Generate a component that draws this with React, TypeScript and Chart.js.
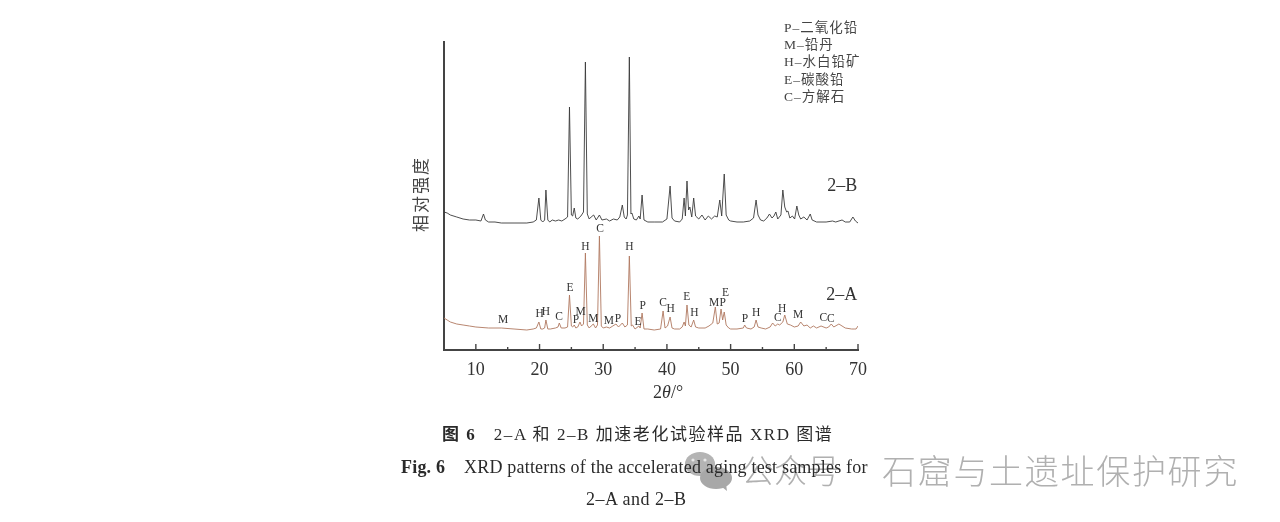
import React, { useEffect, useRef } from "react";
import { Chart, registerables } from "chart.js";

Chart.register(...registerables);

const thetaB = [5,5.5,6,7,8,9,10,10.8,11.2,11.5,12,13,14,16,18,19,19.5,19.9,20.2,20.5,20.8,21,21.3,21.6,22,22.5,23,23.5,24,24.4,24.7,25,25.2,25.45,25.7,26,26.5,26.9,27.2,27.5,27.8,28.1,28.5,28.9,29.4,29.8,30.5,31,31.6,32.2,32.6,33,33.3,33.6,33.8,34.1,34.35,34.5,34.8,35.2,35.6,35.8,36.1,36.4,37,38,39.3,40,40.5,40.8,41.2,42,42.4,42.7,42.9,43.15,43.4,43.6,43.9,44.2,44.5,45,45.5,46,46.5,47,47.5,47.9,48.3,48.6,49,49.3,49.7,50,51,52,53,53.6,54,54.3,54.7,55.2,55.7,56.1,56.5,56.8,57.1,57.4,57.9,58.2,58.5,58.8,59,59.3,59.7,60.05,60.4,60.7,61,61.5,62,62.5,62.8,63.5,65,66,66.5,67.5,68,68.7,69.2,69.6,70];
const intensityB = [138,137,135,133,131,130,130,129,136,130,128,128,127,127,127,128,130,152,130,128,130,160,130,128,130,129,130,129,131,133,243,135,134,142,132,131,134,138,288,136,131,133,135,130,135,130,131,129,131,130,133,145,133,131,135,293,136,137,131,130,134,131,155,130,128,128,128,131,164,132,129,128,131,152,134,169,140,143,133,152,134,131,135,130,134,131,134,133,150,134,176,135,130,129,128,128,129,132,150,135,130,129,132,136,132,134,138,131,135,160,143,138,139,132,134,131,144,135,131,133,130,136,130,128,128,129,128,130,128,128,133,129,127];

const thetaA = [5,5.5,6,7,8,9,10,12,14,16,18,19,19.5,19.9,20.2,20.5,20.8,21,21.3,21.7,22.5,22.9,23.1,23.4,24,24.4,24.7,25,25.2,25.45,25.7,26,26.35,26.6,26.9,27.2,27.5,27.8,28.1,28.45,28.8,29.1,29.4,29.7,30,30.5,31,31.5,32,32.4,33,33.4,33.8,34.1,34.4,34.6,35,35.6,35.8,36.1,36.4,37,38,39,39.4,39.7,40.1,40.5,40.8,41.2,42,42.4,42.7,42.9,43.15,43.45,43.8,44.2,44.5,45,46,46.6,47.2,47.6,47.9,48.2,48.5,48.75,49,49.3,49.7,50,51,52,52.2,52.5,53.2,53.7,54,54.3,54.8,55.5,56.2,56.6,57,57.4,57.7,58.2,58.5,58.9,59.4,60,60.6,61,61.5,62,62.5,63,63.5,64.2,65,65.4,65.8,66.2,67,68,69,69.4,69.7,70];
const intensityA = [32,30,28,26,25,24,23,22,22,21,20,21,22,28,21,21,22,30,21,21,22,23,27,22,22,23,55,24,23,25,22,23,28,24,26,97,25,22,24,26,22,25,114,24,22,23,22,24,26,23,27,23,25,94,24,25,21,24,22,37,21,21,20,21,39,22,24,33,22,21,21,23,28,24,45,25,23,30,23,22,22,24,27,43,26,27,41,30,38,25,22,21,21,22,25,22,21,23,30,23,22,21,23,27,24,26,25,28,35,26,25,23,24,28,24,25,22,24,22,24,22,23,26,23,26,22,21,21,21,24,22,21];

const peakLetters = ["M","H","H","C","E","P","M","H","M","C","M","P","H","E","P","C","H","E","H","M","P","E","P","H","C","H","M","C","C"];
const peakTheta = [14.3,20,21,23.05,24.8,25.7,26.46,27.2,28.45,29.5,30.9,32.3,34.1,35.45,36.2,39.4,40.6,43.1,44.3,47.4,48.75,49.2,52.25,54,57.4,58.1,60.6,64.55,65.75];
const peakHeight = [30.3,36.3,38,33.3,61.7,30.3,38.3,102.7,30.7,121,29,31.3,102.7,28.3,44.3,47.3,40.7,53.3,36.7,47.3,47.3,57.3,31,36.7,32.3,41.3,34.7,32,31.3];

const phaseKey = ["P–二氧化铅","M–铅丹","H–水白铅矿","E–碳酸铅","C–方解石"];
const seriesNames = ["2–B","2–A"];
const seriesNameTheta = [69.9,69.9];
const seriesNameHeight = [164,55];
const xTicks = [10,20,30,40,50,60,70];

const serif = '"Liberation Serif", "Noto Sans CJK SC", serif';

const figureText = {
  id: "figureText",
  afterDatasetsDraw(chart: any) {
    const { ctx, scales } = chart;
    const x = scales.x, y = scales.y;
    ctx.save();
    // inward ticks
    ctx.strokeStyle = "#444";
    ctx.lineWidth = 1.4;
    for (let t = 10; t <= 70; t += 5) {
      const px = x.getPixelForValue(t);
      const len = t % 10 === 0 ? 6 : 3;
      ctx.beginPath();
      ctx.moveTo(px, y.bottom);
      ctx.lineTo(px, y.bottom - len);
      ctx.stroke();
    }
    // phase letters
    ctx.fillStyle = "#333";
    ctx.textAlign = "center";
    ctx.textBaseline = "middle";
    ctx.font = `11.5px ${serif}`;
    peakLetters.forEach((l, i) => {
      ctx.fillText(l, x.getPixelForValue(peakTheta[i]), y.getPixelForValue(peakHeight[i]));
    });
    // series names
    ctx.textAlign = "right";
    ctx.font = `18px ${serif}`;
    seriesNames.forEach((n, i) => {
      ctx.fillText(n, x.getPixelForValue(seriesNameTheta[i]), y.getPixelForValue(seriesNameHeight[i]));
    });
    // phase key
    ctx.textAlign = "left";
    ctx.font = `13.5px ${serif}`;
    ctx.fillStyle = "#444";
    (ctx as any).letterSpacing = "1px";
    phaseKey.forEach((t, i) => ctx.fillText(t, 784, 28 + i * 17.4));
    (ctx as any).letterSpacing = "0px";
    // y title
    ctx.save();
    ctx.translate(423, 194);
    ctx.rotate(-Math.PI / 2);
    ctx.textAlign = "center";
    ctx.font = `17px ${serif}`;
    (ctx as any).letterSpacing = "2px";
    ctx.fillStyle = "#444";
    ctx.fillText("相对强度", 0, 0);
    ctx.restore();
    // x title
    ctx.fillStyle = "#333";
    ctx.textAlign = "left";
    ctx.font = `18px ${serif}`;
    ctx.fillText("2", 653, 393);
    ctx.font = `italic 18px ${serif}`;
    ctx.fillText("θ", 662, 393);
    ctx.font = `18px ${serif}`;
    ctx.fillText("/°", 671, 393);
    ctx.restore();
  },
};

const base: React.CSSProperties = {
  position: "absolute",
  whiteSpace: "pre",
  fontFamily: serif,
  color: "#2a2a2a",
  lineHeight: 1,
};

export default function App() {
  const ref = useRef<HTMLCanvasElement>(null);
  useEffect(() => {
    const chart = new Chart(ref.current!, {
      type: "scatter",
      data: {
        datasets: [
          {
            label: "2-B",
            data: thetaB.map((t, i) => ({ x: t, y: intensityB[i] })),
            showLine: true,
            borderColor: "#3a3a3a",
            borderWidth: 0.9,
            pointRadius: 0,
            tension: 0,
          },
          {
            label: "2-A",
            data: thetaA.map((t, i) => ({ x: t, y: intensityA[i] })),
            showLine: true,
            borderColor: "#b07860",
            borderWidth: 0.9,
            pointRadius: 0,
            tension: 0,
          },
        ],
      },
      options: {
        animation: false,
        responsive: false,
        devicePixelRatio: 1,
        layout: { padding: { left: 444, right: 422, top: 42, bottom: 0 } },
        plugins: { legend: { display: false }, tooltip: { enabled: false } },
        scales: {
          x: {
            type: "linear",
            min: 5,
            max: 70,
            afterBuildTicks(scale: any) {
              scale.ticks = xTicks.map((v) => ({ value: v }));
            },
            afterFit(scale: any) {
              scale.height = 172;
            },
            grid: { display: false, drawTicks: false },
            border: { display: true, color: "#444", width: 2 },
            ticks: {
              autoSkip: false,
              maxRotation: 0,
              padding: 9,
              color: "#333",
              font: { family: "Liberation Serif", size: 18 },
            },
          },
          y: {
            min: 0,
            max: 308,
            afterFit(scale: any) {
              scale.width = 0;
            },
            grid: { display: false, drawTicks: false },
            border: { display: true, color: "#444", width: 2 },
            ticks: { display: false },
          },
        },
      },
      plugins: [figureText],
    } as any);
    return () => chart.destroy();
  }, []);

  return (
    <div style={{ position: "fixed", left: 0, top: 0, width: 1280, height: 522, background: "#fff", overflow: "hidden" }}>
      <canvas ref={ref} width={1280} height={522} style={{ position: "absolute", left: 0, top: 0, width: 1280, height: 522 }} />
      <svg width={1280} height={522} style={{ position: "absolute", left: 0, top: 0, pointerEvents: "none" }}>
        <ellipse cx={700} cy={464} rx={15} ry={12} fill="#b4b4b4" />
        <ellipse cx={716} cy={478} rx={16} ry={11} fill="#a8a8a8" />
        <path d="M722 487 L727 491 L726 484 Z" fill="#a8a8a8" />
        <circle cx={693} cy={460} r={1.6} fill="#e8e8e8" />
        <circle cx={705} cy={460} r={1.6} fill="#e8e8e8" />
      </svg>
      <div style={{ ...base, left: 741, top: 453, fontSize: 33, fontFamily: '"Noto Sans CJK SC"', color: "#b0b0b0", fontWeight: 300 }}>公众号</div>
      <div style={{ ...base, left: 882, top: 453, fontSize: 34, letterSpacing: 1.7, fontFamily: '"Noto Sans CJK SC"', color: "#b0b0b0", fontWeight: 300 }}>石窟与土遗址保护研究</div>
      <div style={{ ...base, left: 442, top: 426, fontSize: 17, letterSpacing: 1.55 }}>
        <b>图 6</b>{"   2–A 和 2–B 加速老化试验样品 XRD 图谱"}
      </div>
      <div style={{ ...base, left: 401, top: 458, fontSize: 18, letterSpacing: 0.2 }}>
        <b>Fig. 6</b>{"    XRD patterns of the accelerated aging test samples for"}
      </div>
      <div style={{ ...base, left: 586, top: 490, fontSize: 18, letterSpacing: 0.5 }}>2–A and 2–B</div>
    </div>
  );
}
